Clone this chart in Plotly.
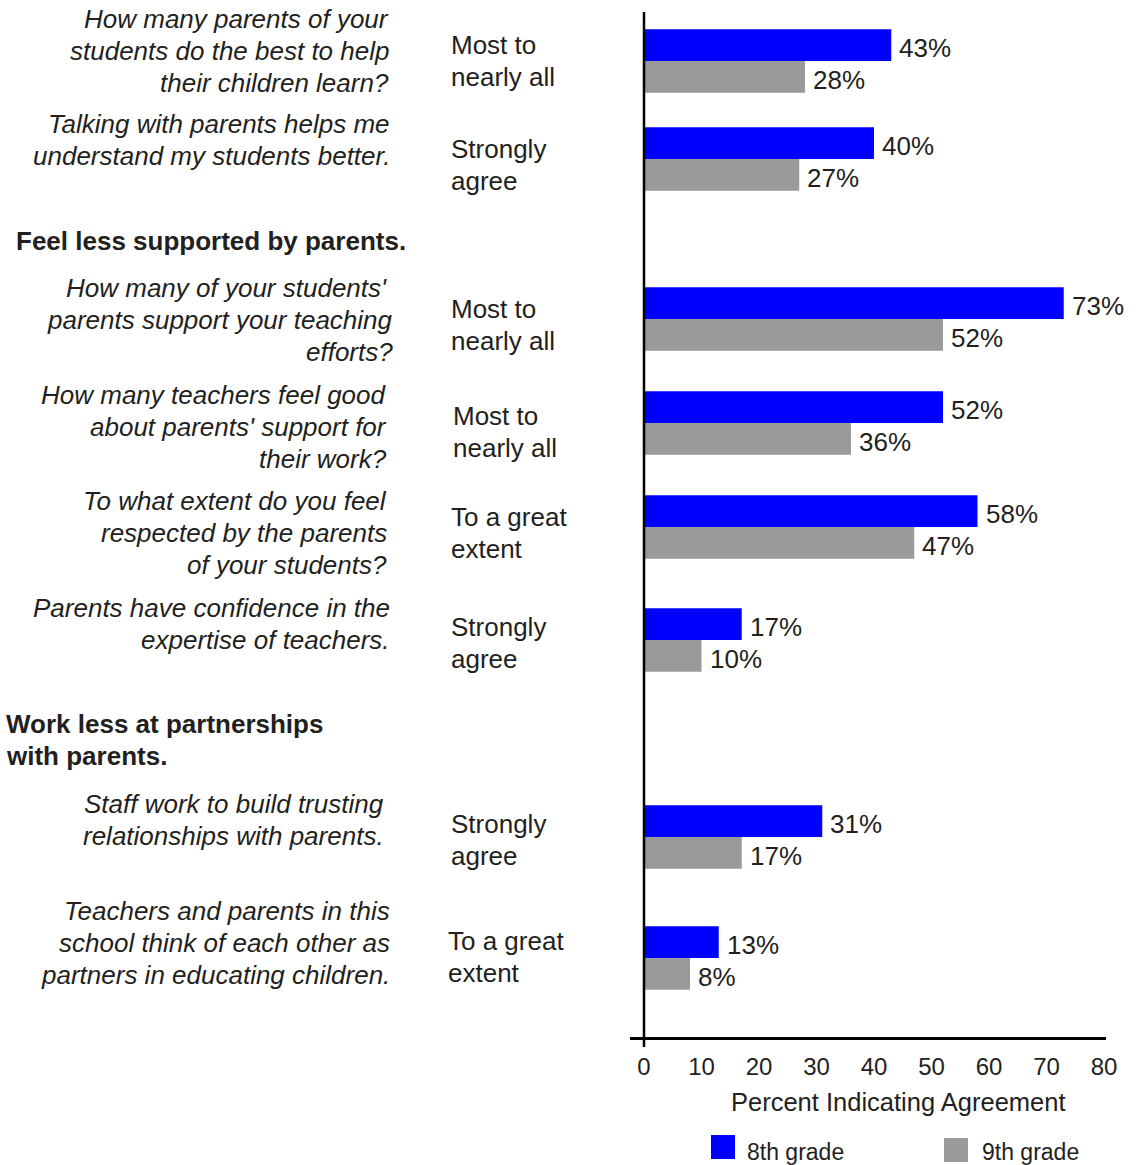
import plotly.graph_objects as go

# ---- data ----
questions = [
    "How many parents of your<br>students do the best to help<br>their children learn?",
    "Talking with parents helps me<br>understand my students better.",
    "How many of your students' <br>parents support your teaching<br>efforts?",
    "How many teachers feel good<br>about parents' support for<br>their work?",
    "To what extent do you feel<br>respected by the parents<br>of your students?",
    "Parents have confidence in the<br>expertise of teachers.",
    "Staff work to build trusting<br>relationships with parents.",
    "Teachers and parents in this<br>school think of each other as<br>partners in educating children.",
]
responses = [
    "Most to<br>nearly all",
    "Strongly<br>agree",
    "Most to<br>nearly all",
    "Most to<br>nearly all",
    "To a great<br>extent",
    "Strongly<br>agree",
    "Strongly<br>agree",
    "To a great<br>extent",
]
section_headers = [
    "Feel less supported by parents.",
    "Work less at partnerships<br>with parents.",
]
grade8 = [43, 40, 73, 52, 58, 17, 31, 13]
grade9 = [28, 27, 52, 36, 47, 10, 17, 8]
series_names = ["8th grade", "9th grade"]
x_ticks = [0, 10, 20, 30, 40, 50, 60, 70, 80]
x_title = "Percent Indicating Agreement"

# ---- layout (page pixels; y axis runs top-down in pixels) ----
W, H = 1140, 1165
FONT = "Liberation Sans, Arial, sans-serif"
TXT = "#231f20"
BLUE = "#0000ff"
GRAY = "#9a9a9a"
LINE_GAP = 32

row_split = [61, 159, 319, 423, 527, 640, 837, 958]
bar_h = 31.8
question_y = [51, 140, 320, 427, 533, 624, 820, 943]
question_right = [391, 392, 395, 389, 389, 392, 386, 392]
response_y = [61, 165, 325, 432, 533, 643, 840, 957]
response_left = [449, 449, 449, 451, 449, 449, 449, 446]
header_pos = [(14, 241), (4, 740)]

zero_px, px_per_unit = 644, 5.75
axis_left, axis_right, axis_y = 630, 1106, 1038

fig = go.Figure()
fig.add_trace(go.Bar(
    name=series_names[0], orientation="h",
    x=grade8, y=[r - bar_h / 2 for r in row_split], width=bar_h,
    marker=dict(color=BLUE, line=dict(width=0)), showlegend=False,
))
fig.add_trace(go.Bar(
    name=series_names[1], orientation="h",
    x=grade9, y=[r + bar_h / 2 for r in row_split], width=bar_h,
    marker=dict(color=GRAY, line=dict(width=0)), showlegend=False,
))

ann = []


def text_block(text, x_px, y_mid, anchor, size, wrap=""):
    """Place a multi-line label one line at a time with a fixed line gap."""
    lines = text.split("<br>")
    top = y_mid - (len(lines) - 1) * LINE_GAP / 2
    for i, line in enumerate(lines):
        body = f"<{wrap}>{line}</{wrap}>" if wrap else line
        ann.append(dict(
            x=x_px / W, y=top + i * LINE_GAP, xref="paper", yref="y", text=body,
            xanchor=anchor, yanchor="middle", showarrow=False,
            font=dict(family=FONT, size=size, color=TXT),
        ))


# value labels at the end of each bar
for vals, off in ((grade8, -bar_h / 2), (grade9, bar_h / 2)):
    for v, r in zip(vals, row_split):
        ann.append(dict(
            x=v, y=r + off + 3, xref="x", yref="y", text=f"{v}%",
            xanchor="left", yanchor="middle", xshift=6, showarrow=False,
            font=dict(family=FONT, size=26, color=TXT),
        ))
# question wording
for q, y, xr in zip(questions, question_y, question_right):
    text_block(q, xr, y, "right", 26, "i")
# response category
for rsp, y, xl in zip(responses, response_y, response_left):
    text_block(rsp, xl, y, "left", 26)
# section headers
for hd, (xl, y) in zip(section_headers, header_pos):
    text_block(hd, xl, y, "left", 26, "b")
# axis title
text_block(x_title, 898, 1102, "center", 25.5)

# legend swatches and labels
shapes = []
legend_items = [(series_names[0], BLUE, 711, 1135, 745), (series_names[1], GRAY, 944, 1138, 980)]
for name, col, x0, y0, tx in legend_items:
    shapes.append(dict(type="rect", xref="paper", yref="y",
                       x0=x0 / W, x1=(x0 + 24) / W, y0=y0, y1=y0 + 24,
                       fillcolor=col, line=dict(width=0)))
    text_block(name, tx, 1152, "left", 23)

# vertical value axis line at zero
shapes.append(dict(type="line", xref="x", yref="y", x0=0, x1=0, y0=12, y1=1047,
                   line=dict(color="#000000", width=2.5)))

x_min = (axis_left - zero_px) / px_per_unit
x_max = (axis_right - zero_px) / px_per_unit

fig.update_layout(
    width=W, height=H,
    margin=dict(l=0, r=0, t=0, b=0, pad=0, autoexpand=False),
    paper_bgcolor="white", plot_bgcolor="white",
    barmode="overlay",
    annotations=ann, shapes=shapes,
    xaxis=dict(
        domain=[axis_left / W, axis_right / W], range=[x_min, x_max],
        anchor="free", position=(H - axis_y) / H, automargin=False,
        showline=True, linecolor="#000000", linewidth=2.5,
        showgrid=False, zeroline=False,
        tickvals=x_ticks, ticktext=[str(t) for t in x_ticks],
        ticks="outside", ticklen=6, tickcolor="rgba(0,0,0,0)",
        tickfont=dict(family=FONT, size=24, color=TXT),
        fixedrange=True,
    ),
    yaxis=dict(domain=[0, 1], range=[H, 0], visible=False, automargin=False,
               fixedrange=True),
    showlegend=False,
)

fig.write_html("out.html")
